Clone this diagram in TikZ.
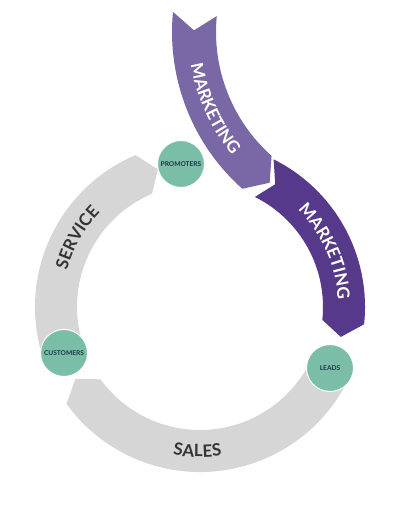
\documentclass[tikz,border=0pt]{standalone}
\usepackage{fontspec}
\setmainfont{Lato}
\usepackage{tikz}
\usetikzlibrary{decorations.text}
\definecolor{ringgray}{RGB}{214,214,214}
\definecolor{mktlight}{RGB}{122,104,166}
\definecolor{mktdark}{RGB}{86,57,138}
\definecolor{stagegreen}{RGB}{122,190,168}
\definecolor{stagetext}{RGB}{28,52,70}
\definecolor{bandtext}{RGB}{52,52,52}
\newcommand{\bandfont}{\fontsize{17}{17}\selectfont\bfseries}
\newcommand{\stagefont}{\fontsize{6.6}{7}\selectfont\bfseries}

\begin{document}
\begin{tikzpicture}[x=1pt,y=1pt,
  stage/.style={circle,fill=stagegreen,draw=white,line width=1pt,minimum size=47pt,
    font=\stagefont,text=stagetext},
  bandlabel/.style={decorate,decoration={text along path,text align=center,text color=#1}}]
              \tikzstyle{every node}+=[inner sep=0pt]
              \useasboundingbox (0,0) rectangle (401,529);
              \coordinate (hub) at (200,222);
              \coordinate (top) at (382,497);
              \fill [ringgray] ([shift={(hub)}]-24:165) arc[start angle=-24,end angle=-144,radius=165]
                -- ([shift={(hub)}]-150:144) -- ([shift={(hub)}]-144:123)
                arc[start angle=-144,end angle=-24,radius=123] -- ([shift={(hub)}]-30:144) -- cycle;
              \fill [ringgray] ([shift={(hub)}]200:165) arc[start angle=200,end angle=113,radius=165]
                -- ([shift={(hub)}]107:144) -- ([shift={(hub)}]113:123)
                arc[start angle=113,end angle=200,radius=123] -- ([shift={(hub)}]194:144) -- cycle;
              \fill [mktdark] ([shift={(hub)}]63.5:165) arc[start angle=63.5,end angle=-6,radius=165]
                -- ([shift={(hub)}]-12:144) -- ([shift={(hub)}]-6:123)
                arc[start angle=-6,end angle=63.5,radius=123] -- ([shift={(hub)}]58.5:144) -- cycle;
              \fill [mktlight] ([shift={(top)}]174.5:210) arc[start angle=174.5,end angle=228.3,radius=210]
                -- ([shift={(top)}]233.3:188) -- ([shift={(top)}]228.3:166)
                arc[start angle=228.3,end angle=174.5,radius=166] -- ([shift={(top)}]179.5:188) -- cycle;
              \path [bandlabel=white,decoration={text={|\bandfont|MARKETING}}]
                ([shift={(top)}]184.5:194) arc[start angle=184.5,end angle=224.5,radius=194];
              \path [bandlabel=white,decoration={text={|\bandfont|MARKETING}}]
                ([shift={(hub)}]44:138) arc[start angle=44,end angle=4,radius=138];
              \path [bandlabel=bandtext,decoration={text={|\bandfont|SERVICE}}]
                ([shift={(hub)}]170.5:138) arc[start angle=170.5,end angle=130.5,radius=138];
              \path [bandlabel=bandtext,decoration={text={|\bandfont|SALES}}]
                ([shift={(hub)}]-111:150) arc[start angle=-111,end angle=-71,radius=150];
              \node [stage] (promoters) at (181,365) {PROMOTERS};
              \node [stage] (customers) at (64,176) {CUSTOMERS};
              \node [stage] (leads) at (330,161) {LEADS};
            \end{tikzpicture}
\end{document}
